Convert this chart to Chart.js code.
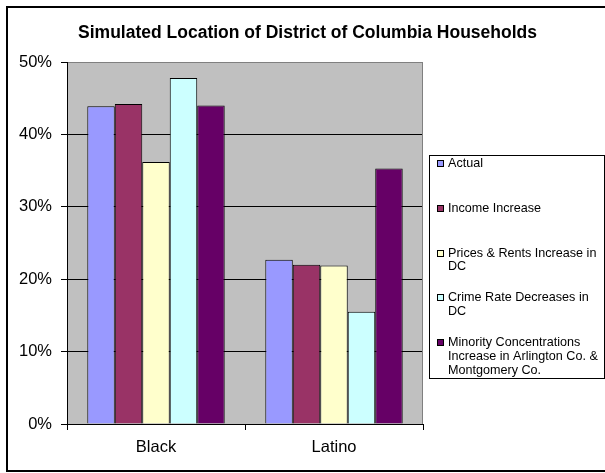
<!DOCTYPE html>
<html>
<head>
<meta charset="utf-8">
<script src="https://cdn.jsdelivr.net/npm/chart.js@4/dist/chart.umd.min.js"></script>
<style>
  html, body { margin: 0; padding: 0; background: #ffffff; }
  #wrap { width: 605px; height: 473px; position: relative; }
</style>
</head>
<body>
<div id="wrap"><canvas id="c" width="605" height="473"></canvas></div>
<script>
// Household groups on the x axis
const categories = ['Black', 'Latino'];

// Share of households (percent) under each scenario
const actual         = [43.9, 22.7];
const incomeIncrease = [44.2, 22.0];
const pricesRents    = [36.2, 21.9];
const crimeDecrease  = [47.8, 15.5];
const minorityConc   = [44.0, 35.3];

// Legend text, already broken into lines
const seriesLabels = [
  ['Actual'],
  ['Income Increase'],
  ['Prices & Rents Increase in', 'DC'],
  ['Crime Rate Decreases in', 'DC'],
  ['Minority Concentrations', 'Increase in Arlington Co. &', 'Montgomery Co.']
];

const seriesColors = ['#9999FF', '#993366', '#FFFFCC', '#CCFFFF', '#660066'];

// Y axis tick values (percent)
const yTicks = [0, 10, 20, 30, 40, 50];

const chartTitle = 'Simulated Location of District of Columbia Households';

const FONT = '"Liberation Sans", Arial, sans-serif';

const seriesValues = [actual, incomeIncrease, pricesRents, crimeDecrease, minorityConc];

const datasets = seriesValues.map((vals, i) => ({
  label: seriesLabels[i].join(' '),
  data: vals,
  backgroundColor: seriesColors[i],
  borderColor: '#000000',
  borderWidth: 1,
  borderSkipped: 'bottom',
  categoryPercentage: 0.772,
  barPercentage: 1.0
}));

// Grey plot background, grey right frame, title, legend box and outer frame
const decor = {
  id: 'decor',
  beforeDraw(chart) {
    const { ctx, chartArea: a } = chart;
    ctx.save();
    ctx.fillStyle = '#ffffff';
    ctx.fillRect(0, 0, chart.width, chart.height);
    ctx.fillStyle = '#C0C0C0';
    ctx.fillRect(a.left, a.top, a.right - a.left, a.bottom - a.top);
    ctx.restore();
  },
  afterDatasetsDraw(chart) {
    const { ctx, chartArea: a } = chart;
    ctx.save();
    ctx.strokeStyle = '#808080';
    ctx.lineWidth = 1;
    ctx.beginPath();
    ctx.moveTo(Math.round(a.right) - 0.5, a.top);
    ctx.lineTo(Math.round(a.right) - 0.5, a.bottom);
    ctx.stroke();
    ctx.restore();
  },
  afterDraw(chart) {
    const { ctx } = chart;
    ctx.save();

    // Title
    ctx.fillStyle = '#000000';
    ctx.font = 'bold 17.5px ' + FONT;
    ctx.textAlign = 'center';
    ctx.textBaseline = 'middle';
    ctx.fillText(chartTitle, 307.5, 33);

    // Legend box
    const boxL = 429.5, boxT = 155.5, boxR = 604.5, boxB = 378.5;
    ctx.fillStyle = '#ffffff';
    ctx.fillRect(boxL, boxT, boxR - boxL, boxB - boxT);
    ctx.strokeStyle = '#000000';
    ctx.lineWidth = 1;
    ctx.strokeRect(boxL, boxT, boxR - boxL, boxB - boxT);

    ctx.font = '12.6px ' + FONT;
    ctx.textAlign = 'left';
    ctx.textBaseline = 'middle';
    const firstY = 163.5, itemGap = 44.8, lineGap = 13.8;
    chart.data.datasets.forEach((ds, i) => {
      const y0 = firstY + i * itemGap;
      ctx.fillStyle = ds.backgroundColor;
      ctx.fillRect(437, Math.round(y0 - 3.5), 7, 7);
      ctx.strokeStyle = '#000000';
      ctx.strokeRect(437.5, Math.round(y0 - 3.5) + 0.5, 6, 6);
      ctx.fillStyle = '#000000';
      seriesLabels[i].forEach((line, j) => {
        ctx.fillText(line, 448, y0 + j * lineGap);
      });
    });

    // Outer chart frame
    ctx.strokeStyle = '#000000';
    ctx.lineWidth = 2;
    ctx.strokeRect(7, 7, 610, 464);
    ctx.restore();
  }
};

new Chart(document.getElementById('c'), {
  type: 'bar',
  data: { labels: categories, datasets },
  options: {
    responsive: false,
    animation: false,
    layout: { padding: { left: 0, top: 62, right: 182, bottom: 0 } },
    plugins: {
      legend: { display: false },
      title: { display: false },
      tooltip: { enabled: false }
    },
    scales: {
      x: {
        grid: {
          offset: true,
          drawOnChartArea: false,
          drawTicks: true,
          tickLength: 6,
          tickColor: '#000000'
        },
        border: { color: '#000000', width: 1 },
        ticks: { color: '#000000', font: { family: FONT, size: 16.5 }, padding: 8 },
        afterFit(scale) { scale.height = 49; }
      },
      y: {
        min: 0,
        max: 50,
        afterBuildTicks(scale) { scale.ticks = yTicks.map(v => ({ value: v })); },
        grid: {
          color: ctx => (ctx.tick && ctx.tick.value === 50 ? '#808080' : '#000000'),
          tickColor: '#000000',
          tickLength: 6,
          lineWidth: 1
        },
        border: { color: '#000000', width: 1 },
        ticks: {
          color: '#000000',
          font: { family: FONT, size: 16.5 },
          padding: 9,
          callback: v => v + '%'
        },
        afterFit(scale) { scale.width = 67; }
      }
    }
  },
  plugins: [decor]
});
</script>
</body>
</html>
